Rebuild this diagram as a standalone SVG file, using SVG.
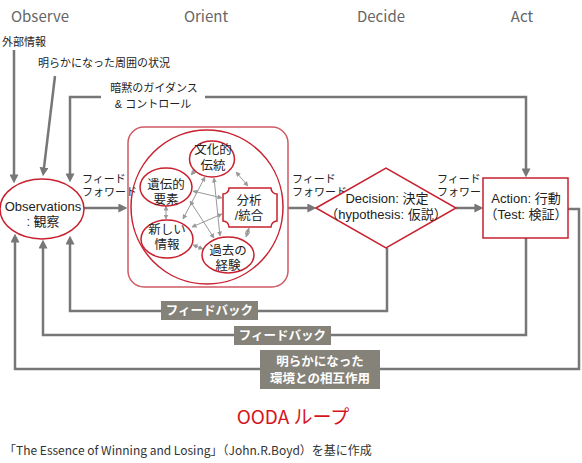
<svg xmlns="http://www.w3.org/2000/svg" width="582" height="463" viewBox="0 0 582 463">
<style>
text{font-family:"Liberation Sans","Noto Sans CJK JP",sans-serif;fill:#222}
.hd{font-family:"Noto Sans CJK JP","Noto Sans",sans-serif;font-size:15px;fill:#666}
.lb{font-size:11px}
.nd{font-size:12.5px;text-anchor:middle}
.big{font-size:13px;text-anchor:middle}
.fb{font-size:12.5px;fill:#fff;font-weight:bold;text-anchor:middle}
.ln{fill:none;stroke:#777;stroke-width:2.5}
.sm{fill:none;stroke:#999;stroke-width:1}
.red{fill:#fff;stroke:#c8202e;stroke-width:1.5}
.box{fill:#858279}
</style>
<defs>
<marker id="ar" viewBox="0 0 10 10" refX="4" refY="5" markerWidth="9" markerHeight="9" markerUnits="userSpaceOnUse" orient="auto"><path d="M0,0 L10,5 L0,10 z" fill="#777"/></marker>
<marker id="sa" viewBox="0 0 10 10" refX="9" refY="5" markerWidth="5" markerHeight="5" markerUnits="userSpaceOnUse" orient="auto-start-reverse"><path d="M0,0 L10,5 L0,10 z" fill="#999"/></marker>
</defs>

<g id="headers">
<text class="hd" x="40" y="22" text-anchor="middle">Observe</text>
<text class="hd" x="206" y="22" text-anchor="middle">Orient</text>
<text class="hd" x="381" y="22" text-anchor="middle">Decide</text>
<text class="hd" x="522" y="22" text-anchor="middle">Act</text>
</g>

<g id="connectors">
<path class="ln" d="M14 50 V178" marker-end="url(#ar)"/>
<path class="ln" d="M55 76 L43.6 171" marker-end="url(#ar)"/>
<path class="ln" d="M101 97 H70 V177" marker-end="url(#ar)"/>
<path class="ln" d="M205 97 H526 V172" marker-end="url(#ar)"/>
<path class="ln" d="M84 208 H122" marker-end="url(#ar)"/>
<path class="ln" d="M288 208 H311" marker-end="url(#ar)"/>
<path class="ln" d="M456 208 H478" marker-end="url(#ar)"/>
<path class="ln" d="M387 248 V311 H70 V241" marker-end="url(#ar)"/>
<path class="ln" d="M526 238 V335 H43 V245" marker-end="url(#ar)"/>
<path class="ln" d="M568 209 H579 V369 H15 V239" marker-end="url(#ar)"/>
<g id="inner-links">
<path class="sm" d="M191 175 L197 168" marker-start="url(#sa)" marker-end="url(#sa)"/>
<path class="sm" d="M236 172 L248 186" marker-start="url(#sa)" marker-end="url(#sa)"/>
<path class="sm" d="M166 206 V219" marker-start="url(#sa)" marker-end="url(#sa)"/>
<path class="sm" d="M249 228 L246 237" marker-start="url(#sa)" marker-end="url(#sa)"/>
<path class="sm" d="M193 245 L203 249" marker-start="url(#sa)" marker-end="url(#sa)"/>
<path class="sm" d="M193 191 L222 198" marker-start="url(#sa)" marker-end="url(#sa)"/>
<path class="sm" d="M205 177 L183 219" marker-start="url(#sa)" marker-end="url(#sa)"/>
<path class="sm" d="M214 178 L220 236" marker-start="url(#sa)" marker-end="url(#sa)"/>
<path class="sm" d="M190 201 L214 238" marker-start="url(#sa)" marker-end="url(#sa)"/>
<path class="sm" d="M222 214 L192 227" marker-start="url(#sa)" marker-end="url(#sa)"/>
</g>
</g>

<g id="labels">
<text class="lb" x="2" y="46">外部情報</text>
<text class="lb" x="38" y="67">明らかになった周囲の状況</text>
<text class="lb" x="154" y="92" text-anchor="middle">暗黙のガイダンス</text>
<text class="lb" x="153" y="108" text-anchor="middle">&amp; コントロール</text>
<text class="lb" x="82" y="183">フィード</text>
<text class="lb" x="82" y="196">フォワード</text>
<text class="lb" x="292" y="183">フィード</text>
<text class="lb" x="292" y="196">フォワード</text>
<text class="lb" x="437" y="183">フィード</text>
<text class="lb" x="437" y="196">フォワード</text>
</g>

<g id="observations">
<ellipse class="red" cx="42" cy="209" rx="42" ry="30"/>
<text class="big" x="43" y="211">Observations</text>
<text class="big" x="43" y="226">: 観察</text>
</g>

<g id="orient">
<rect x="128" y="127" width="160" height="160" rx="16" fill="none" stroke="#d05a64" stroke-width="1.5"/>
<ellipse cx="207" cy="207" rx="76" ry="77" fill="none" stroke="#c8202e" stroke-width="1.5"/>
</g>

<g id="n-culture">
<ellipse class="red" cx="212" cy="159" rx="22.5" ry="18"/>
<text class="nd" x="213" y="154">文化的</text>
<text class="nd" x="213" y="170">伝統</text>
</g>
<g id="n-genetic">
<ellipse class="red" cx="166" cy="187" rx="26" ry="19"/>
<text class="nd" x="166" y="189">遺伝的</text>
<text class="nd" x="166" y="204">要素</text>
</g>
<g id="n-newinfo">
<ellipse class="red" cx="167" cy="239" rx="26" ry="19"/>
<text class="nd" x="167" y="234">新しい</text>
<text class="nd" x="167" y="249">情報</text>
</g>
<g id="n-experience">
<ellipse class="red" cx="228" cy="255" rx="26" ry="18"/>
<text class="nd" x="228" y="255">過去の</text>
<text class="nd" x="228" y="270">経験</text>
</g>
<g id="n-analysis">
<path class="red" d="M229 188 H271 A6 6 0 0 0 277 194 V221 A6 6 0 0 0 271 227 H229 A6 6 0 0 0 223 221 V194 A6 6 0 0 0 229 188 Z"/>
<text class="nd" x="249" y="205">分析</text>
<text class="nd" x="249" y="220">/統合</text>
</g>

<g id="decision">
<path class="red" d="M316 208 L386 168 L456 208 L386 248 Z"/>
<text class="big" x="387" y="203">Decision: 決定</text>
<text class="big" x="386" y="219">（hypothesis: 仮説）</text>
</g>

<g id="action">
<rect class="red" x="483" y="178" width="85" height="60"/>
<text class="big" x="526" y="203">Action: 行動</text>
<text class="big" x="526" y="219">（Test: 検証）</text>
</g>

<g id="feedback1">
<rect class="box" x="161" y="301" width="97" height="19"/>
<text class="fb" x="209.5" y="315">フィードバック</text>
</g>
<g id="feedback2">
<rect class="box" x="234" y="326" width="97" height="19"/>
<text class="fb" x="282.5" y="340">フィードバック</text>
</g>
<g id="interaction">
<rect class="box" x="260" y="350" width="120" height="39"/>
<text class="fb" x="320" y="366">明らかになった</text>
<text class="fb" x="320" y="383">環境との相互作用</text>
</g>

<text x="293" y="424" font-size="19" text-anchor="middle" style="fill:#d7141e;font-family:'Noto Sans CJK JP','Noto Sans',sans-serif">OODA ループ</text>
<text x="4" y="455" font-size="12" style="fill:#333;font-family:'Noto Sans CJK JP','Noto Sans',sans-serif">「The Essence of Winning and Losing」（John.R.Boyd）を基に作成</text>
</svg>
